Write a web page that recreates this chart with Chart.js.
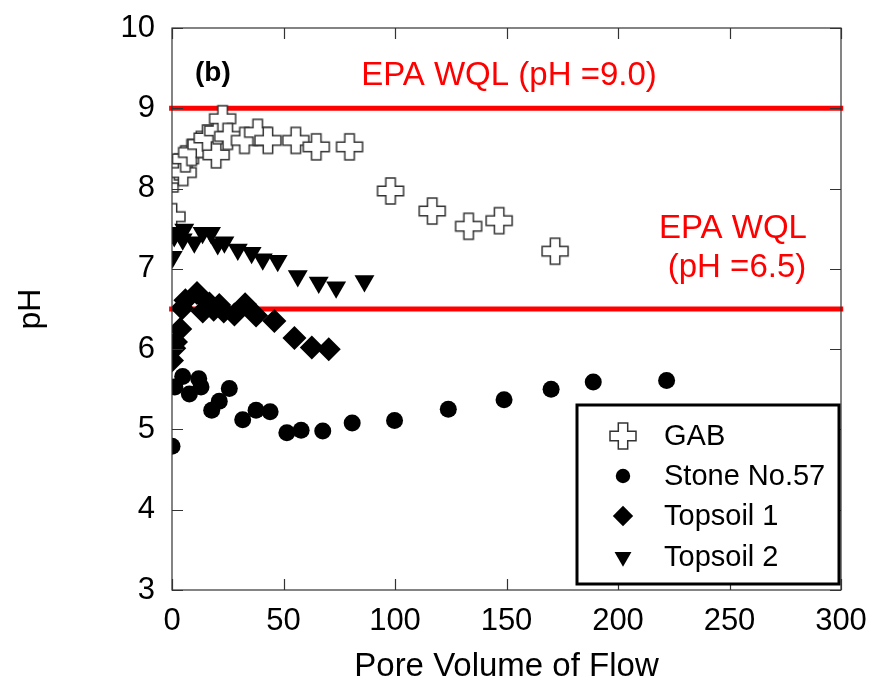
<!DOCTYPE html>
<html>
<head>
<meta charset="utf-8">
<script src="https://cdn.jsdelivr.net/npm/chart.js@4.4.1/dist/chart.umd.min.js"></script>
<style>
  body { margin: 0; background: #fff; }
</style>
</head>
<body>
<canvas id="chart" width="875" height="691"></canvas>
<script>
// data
const gabX = [0, 0.6, 1.5, 3.2, 5, 6, 8.8, 13, 15.8, 19.8, 20.5, 22.7, 25, 32.5, 38.4, 43, 55.5, 64.7, 79.6, 98, 116.7, 133, 146.7, 171.8];
const gabY = [7.65, 8.12, 8.23, 8.27, 8.2, 8.37, 8.45, 8.55, 8.63, 8.42, 8.72, 8.87, 8.65, 8.6, 8.7, 8.6, 8.6, 8.52, 8.52, 7.97, 7.72, 7.53, 7.6, 7.22];

const stoneX = [0, 1.3, 4.8, 7.8, 12, 13, 17.8, 21.2, 25.7, 31.7, 37.7, 44, 51.5, 57.9, 67.6, 80.8, 99.8, 123.9, 148.9, 170, 188.9, 221.8];
const stoneY = [4.79, 5.53, 5.66, 5.44, 5.63, 5.53, 5.24, 5.35, 5.51, 5.12, 5.24, 5.22, 4.96, 4.99, 4.98, 5.08, 5.11, 5.25, 5.37, 5.5, 5.59, 5.61];

const top1X = [0, 1, 1.8, 3.7, 4.5, 6, 11.2, 13.8, 16.8, 18.7, 21.2, 23.2, 28, 32.8, 37.7, 45.9, 54.9, 62.7, 70.3];
const top1Y = [5.86, 6.01, 6.09, 6.25, 6.51, 6.61, 6.7, 6.47, 6.57, 6.49, 6.55, 6.47, 6.43, 6.56, 6.42, 6.35, 6.14, 6.02, 6.0];

const top2X = [0.3, 1, 3.3, 4.8, 5.5, 10, 13.7, 17.5, 20.5, 23.5, 29.5, 35.7, 40.7, 47.4, 56.4, 65.8, 73.6, 86.3];
const top2Y = [7.15, 7.41, 7.45, 7.37, 7.49, 7.33, 7.45, 7.45, 7.31, 7.33, 7.24, 7.2, 7.12, 7.1, 6.91, 6.83, 6.77, 6.85];

const seriesNames = ['GAB', 'Stone No.57', 'Topsoil 1', 'Topsoil 2'];
const xTicks = [0, 50, 100, 150, 200, 250, 300];
const yTicks = [3, 4, 5, 6, 7, 8, 9, 10];
const wqlLimits = [9.0, 6.5];

const pts = (xs, ys) => xs.map((x, i) => ({x: x, y: ys[i]}));

// open plus marker
function plusMarker() {
  const c = document.createElement('canvas');
  c.width = 30; c.height = 30;
  const g = c.getContext('2d');
  const m = 15, a = 13, w = 4.7;
  g.beginPath();
  g.moveTo(m - w, m - a); g.lineTo(m + w, m - a); g.lineTo(m + w, m - w);
  g.lineTo(m + a, m - w); g.lineTo(m + a, m + w); g.lineTo(m + w, m + w);
  g.lineTo(m + w, m + a); g.lineTo(m - w, m + a); g.lineTo(m - w, m + w);
  g.lineTo(m - a, m + w); g.lineTo(m - a, m - w); g.lineTo(m - w, m - w);
  g.closePath();
  g.fillStyle = '#fff';
  g.fill();
  g.strokeStyle = '#333';
  g.lineWidth = 1.5;
  g.stroke();
  return c;
}
const plus = plusMarker();

Chart.defaults.font.family = 'Arial, "Liberation Sans", sans-serif';
Chart.defaults.color = '#000';

const markers = [
  {pointStyle: plus, pointRadius: 13, backgroundColor: '#fff', borderColor: '#333', borderWidth: 0},
  {pointStyle: 'circle', pointRadius: 8.5, backgroundColor: '#000', borderColor: '#000', borderWidth: 0},
  {pointStyle: 'rectRot', pointRadius: 12, backgroundColor: '#000', borderColor: '#000', borderWidth: 0},
  {pointStyle: 'triangle', pointRadius: 11.5, rotation: 180, backgroundColor: '#000', borderColor: '#000', borderWidth: 0}
];

const extras = {
  id: 'extras',
  afterDraw(chart) {
    const ctx = chart.ctx;
    const xs = chart.scales.x, ys = chart.scales.y;
    const a = chart.chartArea;
    ctx.save();
    // frame
    ctx.strokeStyle = '#333';
    ctx.lineWidth = 1.2;
    ctx.strokeRect(a.left, a.top, a.right - a.left, a.bottom - a.top);
    // inward ticks on all sides
    ctx.beginPath();
    const tl = 11;
    xTicks.forEach(v => {
      const p = Math.round(xs.getPixelForValue(v)) + 0.5;
      ctx.moveTo(p, a.bottom); ctx.lineTo(p, a.bottom - tl);
      ctx.moveTo(p, a.top); ctx.lineTo(p, a.top + tl);
    });
    yTicks.forEach(v => {
      const p = Math.round(ys.getPixelForValue(v)) + 0.5;
      ctx.moveTo(a.left, p); ctx.lineTo(a.left + tl, p);
      ctx.moveTo(a.right, p); ctx.lineTo(a.right - tl, p);
    });
    ctx.stroke();

    // labels
    ctx.textBaseline = 'middle';
    ctx.textAlign = 'left';
    ctx.fillStyle = '#000';
    ctx.font = 'bold 28px Arial, "Liberation Sans", sans-serif';
    ctx.fillText('(b)', 195, 73);
    ctx.fillStyle = '#ff0000';
    ctx.textAlign = 'center';
    ctx.font = '33px Arial, "Liberation Sans", sans-serif';
    ctx.fillText('EPA WQL (pH =9.0)', 509, 76);
    ctx.fillText('EPA WQL', 733, 229);
    ctx.fillText('(pH =6.5)', 737, 268);

    // legend box
    const lx = 577, ly = 405, lw = 262, lh = 179;
    ctx.fillStyle = '#fff';
    ctx.fillRect(lx, ly, lw, lh);
    ctx.strokeStyle = '#000';
    ctx.lineWidth = 3;
    ctx.strokeRect(lx, ly, lw, lh);
    ctx.textAlign = 'left';
    ctx.font = '29px Arial, "Liberation Sans", sans-serif';
    const rows = [436, 476, 516, 557];
    seriesNames.forEach((name, i) => {
      const m = markers[i];
      ctx.fillStyle = m.backgroundColor;
      ctx.strokeStyle = m.borderColor;
      ctx.lineWidth = 0;
      Chart.helpers.drawPoint(ctx, {
        pointStyle: m.pointStyle,
        radius: i === 0 ? m.pointRadius : m.pointRadius * 0.85,
        rotation: m.rotation || 0,
        borderWidth: 0
      }, 623, rows[i]);
      ctx.fillStyle = '#000';
      ctx.fillText(name, 664, rows[i] + 1);
    });
    ctx.restore();
  }
};

const series = [
  {label: seriesNames[0], data: pts(gabX, gabY), order: 3},
  {label: seriesNames[1], data: pts(stoneX, stoneY), order: 2},
  {label: seriesNames[2], data: pts(top1X, top1Y), order: 1},
  {label: seriesNames[3], data: pts(top2X, top2Y), order: 0}
].map((d, i) => Object.assign(d, markers[i], {showLine: false}));

const limitLines = wqlLimits.map(v => ({
  label: 'EPA WQL ' + v,
  data: [{x: -1.3, y: v}, {x: 301, y: v}],
  showLine: true,
  borderColor: '#ff0000',
  borderWidth: 5,
  pointRadius: 0,
  clip: 6,
  order: 10
}));

const ctx = document.getElementById('chart').getContext('2d');
const chart = new Chart(ctx, {
  type: 'scatter',
  data: {datasets: series.concat(limitLines)},
  options: {
    responsive: false,
    animation: false,
    events: [],
    layout: {padding: {top: 28, right: 34, left: 0, bottom: 0}},
    plugins: {legend: {display: false}, tooltip: {enabled: false}},
    scales: {
      x: {
        type: 'linear', min: 0, max: 300,
        afterBuildTicks: s => { s.ticks = xTicks.map(v => ({value: v})); },
        afterFit: s => { s.height = 101; s.paddingLeft = 0; s.paddingRight = 0; },
        grid: {display: false},
        border: {display: false},
        ticks: {font: {size: 31}, padding: 5, maxRotation: 0},
        title: {display: true, text: 'Pore Volume of Flow', font: {size: 33}, padding: {top: 0, bottom: 4}}
      },
      y: {
        type: 'linear', min: 3, max: 10,
        afterBuildTicks: s => { s.ticks = yTicks.map(v => ({value: v})); },
        afterFit: s => { s.width = 172; s.paddingTop = 0; s.paddingBottom = 0; },
        grid: {display: false},
        border: {display: false},
        ticks: {font: {size: 31}, padding: 9},
        title: {display: true, text: 'pH', font: {size: 32}, padding: {top: 12, bottom: 0}}
      }
    }
  },
  plugins: [extras]
});
</script>
</body>
</html>
